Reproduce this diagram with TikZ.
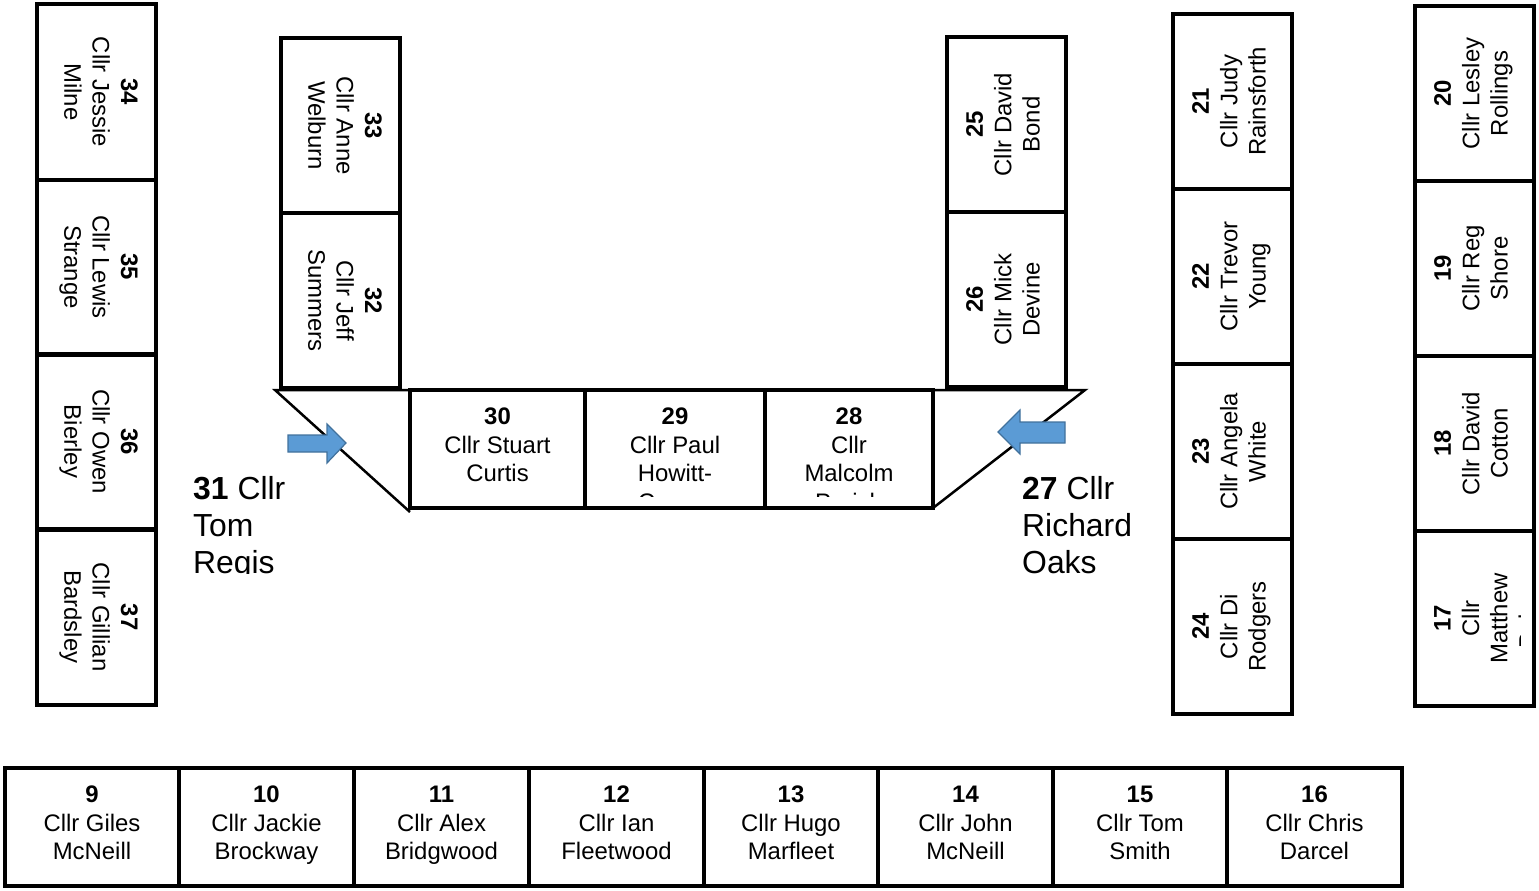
\documentclass[tikz,border=0pt]{standalone}
\usepackage{fontspec}
\setmainfont{Liberation Sans}
\definecolor{arrowfill}{HTML}{5B9BD5}
\definecolor{arrowline}{HTML}{41719C}
\begin{document}
\begin{tikzpicture}[x=1bp,y=-1bp,
  seatbox/.style={draw=black, line width=4bp, inner sep=0pt, fill=none},
  vseat/.style={seatbox, minimum width=119bp, minimum height=175bp},
  hseat/.style={seatbox, minimum width=#1, minimum height=118bp},
  seattext/.style={inner sep=0pt, align=center, anchor=north, font=\fontsize{24}{28.5}\selectfont},
  downtext/.style={seattext, rotate=-90},
  uptext/.style={seattext, rotate=90},
  sidetext/.style={inner sep=0pt, align=left, anchor=north west, font=\fontsize{32}{37}\selectfont},
  wedge/.style={draw=black, line width=2.5bp, line join=miter},
  blockarrow/.style={fill=arrowfill, draw=arrowline, line width=1.2bp, line join=miter}
]
\useasboundingbox (0,0) rectangle (1539,890);

% ---- left column 34-37 ----
\node[vseat] (s34) at (96.5,92) {};
\node[vseat] (s35) at (96.5,267) {};
\node[vseat] (s36) at (96.5,441.5) {};
\node[vseat] (s37) at (96.5,617) {};
\node[downtext] (t34) at (138,92) {\textbf{34}\\Cllr Jessie\\Milne};
\node[downtext] (t35) at (138,267) {\textbf{35}\\Cllr Lewis\\Strange};
\node[downtext] (t36) at (138,441.5) {\textbf{36}\\Cllr Owen\\Bierley};
\node[downtext] (t37) at (138,617) {\textbf{37}\\Cllr Gillian\\Bardsley};

% ---- column 33/32 ----
\node[vseat] (s33) at (340.5,125.5) {};
\node[vseat] (s32) at (340.5,300.5) {};
\node[downtext] (t33) at (382,125.5) {\textbf{33}\\Cllr Anne\\Welburn};
\node[downtext] (t32) at (382,300.5) {\textbf{32}\\Cllr Jeff\\Summers};

% ---- column 25/26 ----
\node[vseat] (s25) at (1006,124.5) {};
\node[vseat] (s26) at (1006,299.5) {};
\node[uptext] (t25) at (966,124.5) {\textbf{25}\\Cllr David\\Bond};
\node[uptext] (t26) at (966,299.5) {\textbf{26}\\Cllr Mick\\Devine};

% ---- column 21-24 ----
\node[vseat] (s21) at (1232.5,101.5) {};
\node[vseat] (s22) at (1232.5,276.5) {};
\node[vseat] (s23) at (1232.5,451.5) {};
\node[vseat] (s24) at (1232.5,626.5) {};
\node[uptext] (t21) at (1192,101.5) {\textbf{21}\\Cllr Judy\\Rainsforth};
\node[uptext] (t22) at (1192,276.5) {\textbf{22}\\Cllr Trevor\\Young};
\node[uptext] (t23) at (1192,451.5) {\textbf{23}\\Cllr Angela\\White};
\node[uptext] (t24) at (1192,626.5) {\textbf{24}\\Cllr Di\\Rodgers};

% ---- column 20-17 ----
\node[vseat] (s20) at (1474,93.5) {};
\node[vseat] (s19) at (1474,268.5) {};
\node[vseat] (s18) at (1474,443.5) {};
\node[vseat] (s17) at (1474,618.5) {};
\node[uptext] (t20) at (1434,93.5) {\textbf{20}\\Cllr Lesley\\Rollings};
\node[uptext] (t19) at (1434,268.5) {\textbf{19}\\Cllr Reg\\Shore};
\node[uptext] (t18) at (1434,443.5) {\textbf{18}\\Cllr David\\Cotton};
\begin{scope}
  \clip (1415,531) rectangle (1520,706);
  \node[uptext] (t17) at (1434,618.5) {\textbf{17}\\Cllr\\Matthew\\Boles};
\end{scope}

% ---- wedges at the ends of the top table ----
\coordinate (lw1) at (275,390);
\coordinate (lw2) at (410,390);
\coordinate (lw3) at (410,512);
\draw[wedge] (lw2) -- (lw1) -- (lw3);
\coordinate (rw1) at (1085,390);
\coordinate (rw2) at (933,390);
\coordinate (rw3) at (933,508);
\draw[wedge] (rw2) -- (rw1) -- (rw3);

% ---- top table 30,29,28 ----
\node[hseat=175bp] (s30) at (497.5,449) {};
\node[hseat=180bp] (s29) at (675,449) {};
\node[hseat=168bp] (s28) at (849,449) {};
\node[seattext] (t30) at (497.5,408) {\textbf{30}\\Cllr Stuart\\Curtis};
\begin{scope}
  \clip (585,390) rectangle (933,496);
  \node[seattext] (t29) at (675,408) {\textbf{29}\\Cllr Paul\\Howitt-\\Cowan};
  \node[seattext] (t28) at (849,408) {\textbf{28}\\Cllr\\Malcolm\\Parish};
\end{scope}

% ---- arrows ----
\draw[blockarrow] (288,435) -- (327,435) -- (327,424) -- (346,443) -- (327,463) -- (327,452) -- (288,452) -- cycle;
\draw[blockarrow] (1065,422) -- (1020,422) -- (1020,410) -- (998,432) -- (1020,454) -- (1020,443) -- (1065,443) -- cycle;

% ---- side labels ----
\begin{scope}
  \clip (150,440) rectangle (400,573);
  \node[sidetext] (t31) at (193,476) {\textbf{31} Cllr\\Tom\\Regis};
\end{scope}
\node[sidetext] (t27) at (1022,476) {\textbf{27} Cllr\\Richard\\Oaks};

% ---- bottom row 9-16 ----
\node[hseat=174bp] (s9)  at (92,827) {};
\node[hseat=175bp] (s10) at (266.5,827) {};
\node[hseat=175bp] (s11) at (441.5,827) {};
\node[hseat=175bp] (s12) at (616.5,827) {};
\node[hseat=174bp] (s13) at (791,827) {};
\node[hseat=175bp] (s14) at (965.5,827) {};
\node[hseat=174bp] (s15) at (1140,827) {};
\node[hseat=175bp] (s16) at (1314.5,827) {};
\node[seattext] (t9)  at (92,786) {\textbf{9}\\Cllr Giles\\McNeill};
\node[seattext] (t10) at (266.5,786) {\textbf{10}\\Cllr Jackie\\Brockway};
\node[seattext] (t11) at (441.5,786) {\textbf{11}\\Cllr Alex\\Bridgwood};
\node[seattext] (t12) at (616.5,786) {\textbf{12}\\Cllr Ian\\Fleetwood};
\node[seattext] (t13) at (791,786) {\textbf{13}\\Cllr Hugo\\Marfleet};
\node[seattext] (t14) at (965.5,786) {\textbf{14}\\Cllr John\\McNeill};
\node[seattext] (t15) at (1140,786) {\textbf{15}\\Cllr Tom\\Smith};
\node[seattext] (t16) at (1314.5,786) {\textbf{16}\\Cllr Chris\\Darcel};
\end{tikzpicture}
\end{document}
